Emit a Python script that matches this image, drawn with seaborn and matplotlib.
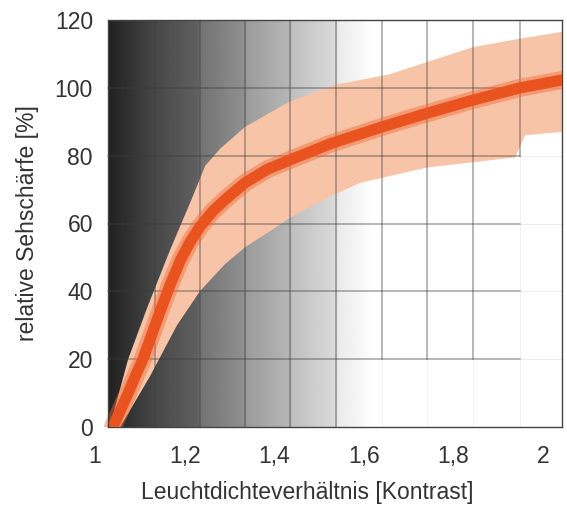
import numpy as np
import pandas as pd
import matplotlib
matplotlib.use("Agg")
import matplotlib.pyplot as plt
import seaborn as sns

# ---- data ----
center_x = [1.040, 1.057, 1.074, 1.090, 1.107, 1.126, 1.145, 1.168, 1.190, 1.212, 1.234,
            1.262, 1.290, 1.335, 1.385, 1.440, 1.525, 1.641, 1.741, 1.844, 1.949, 2.042]
center_y = [0, 5, 10, 15, 20, 27, 34, 42, 49, 54.5, 59,
            63.5, 67, 72, 76, 79, 83.5, 88.5, 92.5, 96.4, 100, 102.3]

upper_x = [1.033, 1.074, 1.116, 1.167, 1.212, 1.246, 1.279, 1.335, 1.435, 1.540, 1.658, 1.741, 1.844, 1.949, 2.042]
upper_y = [0, 20, 35, 52, 66, 77, 82, 88.5, 96, 101, 104, 107.6, 112, 114.5, 116.5]

lower_x = [1.056, 1.123, 1.183, 1.234, 1.290, 1.335, 1.440, 1.525, 1.592, 1.741, 1.938, 1.960, 2.042]
lower_y = [0, 15, 30, 40, 48, 53, 62, 68, 72, 76.5, 79.5, 86, 87]

x_ticks = [1.0, 1.2, 1.4, 1.6, 1.8, 2.0]
x_tick_labels = ["1", "1,2", "1,4", "1,6", "1,8", "2"]
y_ticks = [0, 20, 40, 60, 80, 100, 120]
y_tick_labels = ["0", "20", "40", "60", "80", "100", "120"]

grid_x = [1.134, 1.234, 1.335, 1.435, 1.538, 1.641, 1.741, 1.844, 1.949]
grid_x_low = [0, 0, 0, 0, 0, 20, 20, 20, 80]     # below this the line is almost invisible
grid_y = [20, 40, 60, 80, 100]

# background gradient stops (x position, gray level)
bg_x = [1.029, 1.078, 1.134, 1.230, 1.234, 1.335, 1.339, 1.435, 1.440, 1.538, 1.542, 1.592, 1.618, 2.05]
bg_gray = [0.13, 0.20, 0.28, 0.38, 0.45, 0.57, 0.61, 0.72, 0.75, 0.86, 0.92, 0.97, 1.0, 1.0]

frame_left = 1.029
x_max = 2.0424
grid_right = 1.949

sns.set_style("white")
plt.rcParams['font.family'] = ['Liberation Sans', 'DejaVu Sans']
txt = '#333333'

fig = plt.figure(figsize=(5.67, 5.08), dpi=100)
ax = fig.add_axes([95/567, 1 - 427/508, (562 - 95)/567, (427 - 20)/508])

# background gradient
xs = np.linspace(frame_left, x_max, 600)
row = np.interp(xs, bg_x, bg_gray)
img = np.tile(row, (2, 1))
ax.imshow(img, extent=(frame_left, x_max, 0, 120), aspect='auto', cmap='gray',
          vmin=0, vmax=1, origin='lower', zorder=0, interpolation='bilinear')

# band
poly_x = np.concatenate([upper_x, lower_x[::-1]])
poly_y = np.concatenate([upper_y, lower_y[::-1]])
ax.fill(poly_x, poly_y, color='#f8c4a7', lw=0, zorder=2)

# grid
gc = '#3c3c3c'
for gx, low in zip(grid_x, grid_x_low):
    ax.plot([gx, gx], [low, 120], color=gc, lw=1.3, alpha=0.4, zorder=3)
    if low > 0:
        ax.plot([gx, gx], [0, low], color=gc, lw=0.6, alpha=0.08, zorder=3)
for gy in grid_y:
    ax.plot([frame_left, grid_right], [gy, gy], color=gc, lw=1.3, alpha=0.4, zorder=3)
    ax.plot([grid_right, x_max], [gy, gy], color=gc, lw=0.6, alpha=0.12, zorder=3)

# center line
df = pd.DataFrame({'x': center_x, 'y': center_y})
sns.lineplot(data=df, x='x', y='y', ax=ax, color='#ee6a3a', lw=13, alpha=0.45, zorder=4)
sns.lineplot(data=df, x='x', y='y', ax=ax, color='#e9531f', lw=8, zorder=5)

ax.set_xlim(1.0, x_max)
ax.set_ylim(0, 120)

# frame
ax.spines['left'].set_visible(False)
for s in ['top', 'bottom', 'right']:
    ax.spines[s].set_color('#444444')
    ax.spines[s].set_linewidth(1.0)
ax.spines['bottom'].set_bounds(frame_left, x_max)
ax.spines['top'].set_bounds(frame_left, x_max)
ax.plot([frame_left, frame_left], [0, 120], color='#444444', lw=1.0, zorder=6, clip_on=False)

ax.set_xticks(x_ticks)
ax.set_xticklabels(x_tick_labels)
ax.set_yticks(y_ticks)
ax.set_yticklabels(y_tick_labels)
ax.tick_params(axis='x', length=0, pad=13, labelsize=16.5, labelcolor=txt)
ax.tick_params(axis='y', length=0, pad=1.5, labelsize=16.5, labelcolor=txt)

ax.set_xlabel("Leuchtdichteverhältnis [Kontrast]", fontsize=16.5, color=txt)
ax.xaxis.set_label_coords(0.455, -0.133)
ax.set_ylabel("relative Sehschärfe [%]", fontsize=16.5, color=txt, labelpad=11)

fig.savefig("out.png", dpi=100)
